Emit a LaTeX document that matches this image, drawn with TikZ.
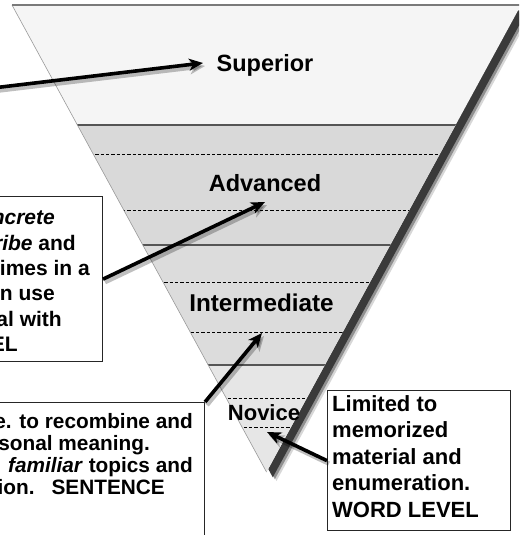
\documentclass[tikz,border=0pt]{standalone}
\usepackage{fontspec}
\setmainfont{Liberation Sans}
\usetikzlibrary{arrows.meta,calc}
\definecolor{supc}{HTML}{F5F5F5}
\definecolor{advc}{HTML}{D9D9D9}
\definecolor{intc}{HTML}{DCDCDC}
\definecolor{novc}{HTML}{E6E6E6}
\definecolor{edgec}{HTML}{9A9A9A}
\definecolor{topc}{HTML}{7A7A7A}
\definecolor{bandline}{HTML}{555555}
\definecolor{shadowc}{HTML}{3A3A3A}
\begin{document}
\begin{tikzpicture}[x=1pt,y=-1pt,
  lvl/.style={font=\fontsize{23.5}{28}\selectfont\bfseries, inner sep=0pt},
  lvlsmall/.style={font=\fontsize{22}{26}\selectfont\bfseries, inner sep=0pt},
  txtA/.style={font=\fontsize{21}{25}\selectfont\bfseries, inner sep=0pt, anchor=base east},
  txtB/.style={font=\fontsize{20.8}{24}\selectfont\bfseries, inner sep=0pt, anchor=base east},
  txtC/.style={font=\fontsize{22}{26}\selectfont\bfseries, inner sep=0pt, anchor=base west},
  boxframe/.style={draw=black!85, line width=1.3pt, fill=white, inner sep=0pt},
  arr/.style={line width=3.6pt, black, -{Stealth[length=14pt,width=12pt,inset=4pt]}},
  arrshadow/.style={line width=4.5pt, black, opacity=0.25, -{Stealth[length=15pt,width=13pt,inset=4pt]}},
  bandsolid/.style={bandline, line width=1.3pt},
  banddash/.style={black, line width=0.6pt, dash pattern=on 3.3pt off 2pt}
]
\useasboundingbox (0,0) rectangle (519,535);
\clip (0,0) rectangle (519,535);
\fill[white] (0,0) rectangle (519,535);

% triangle corners
\coordinate (TL) at (12,5);
\coordinate (TR) at (521,5);
\coordinate (A) at (266.5,472);

% shadow of triangle (layered to imitate blur)
\fill[shadowc, opacity=0.2] ([shift={(10,9)}]TL) -- ([shift={(10,9)}]TR) -- ([shift={(10,9)}]A) -- cycle;
\fill[shadowc, opacity=0.45] ([shift={(8.3,7.3)}]TL) -- ([shift={(8.3,7.3)}]TR) -- ([shift={(8.3,7.3)}]A) -- cycle;
\fill[shadowc] ([shift={(6.3,5.3)}]TL) -- ([shift={(6.3,5.3)}]TR) -- ([shift={(6.3,5.3)}]A) -- cycle;

% triangle bands
\fill[supc] (TL) -- (TR) -- (A) -- cycle;
\begin{scope}
  \clip (TL) -- (TR) -- (A) -- cycle;
  \fill[advc] (0,125) rectangle (530,245);
  \fill[intc] (0,245) rectangle (530,365);
  \fill[novc] (0,365) rectangle (530,480);
  \foreach \yy in {125,245,365} \draw[bandsolid] (0,\yy) -- (530,\yy);
  \foreach \yy in {154,210,282,332,398,427} \draw[banddash] (0,\yy) -- (530,\yy);
\end{scope}
\draw[edgec, line width=0.6pt] (TL) -- (A);
\draw[topc, line width=1.2pt] (TL) -- (TR);

% level labels
\node[lvl, anchor=base] (sup) at (265,71) {Superior};
\node[lvl, anchor=base] (adv) at (265,191) {Advanced};
\node[lvl, font=\fontsize{24.3}{28}\selectfont\bfseries, anchor=base] (int) at (261.5,311) {Intermediate};
\node[lvlsmall, anchor=base] (nov) at (264,420) {Novice};

% boxes
\node[boxframe, minimum width=300pt, minimum height=165pt, anchor=north east] (box1) at (103,196) {};
\node[boxframe, minimum width=300pt, minimum height=200pt, anchor=north east] (box2) at (205,402) {};
\node[boxframe, minimum width=183pt, minimum height=140pt, anchor=north west] (box3) at (327,390) {};

% box 1 text
\node[txtA] (a1) at (55,224.5) {\textit{ncrete}};
\node[txtA] (a2) at (76,250) {\textit{ribe} and};
\node[txtA] (a3) at (90,275.3) {imes in a};
\node[txtA] (a4) at (55,300.7) {n use};
\node[txtA] (a5) at (62,326) {al with};
\node[txtA] (a6) at (18,351.5) {EL};

% box 2 text
\node[txtB] (b1) at (193,428) {e. to recombine and};
\node[txtB] (b2) at (150,450) {rsonal meaning.};
\node[txtB] (b3) at (193,472) {\textit{familiar} topics and};
\node[txtB] (b4) at (165,494) {ion.\hspace{17pt}SENTENCE};

% box 3 text
\node[txtC] (c1) at (332,411) {Limited to};
\node[txtC] (c2) at (332,437.5) {memorized};
\node[txtC] (c3) at (332,464) {material and};
\node[txtC] (c4) at (332,490.5) {enumeration.};
\node[txtC] (c5) at (332,517) {WORD LEVEL};

% arrows
\coordinate (s1) at (-3,87.5);
\coordinate (t1) at (203,63);
\coordinate (t2) at (265,202);
\coordinate (t3) at (262,333);
\coordinate (t4) at (267,432);

\draw[arrshadow] ([shift={(2,3)}]s1) -- ([shift={(2,3)}]t1);
\draw[arrshadow] ([shift={(2,3)}]box1.east) -- ([shift={(2,3)}]t2);
\draw[arrshadow] ([shift={(2,3)}]box2.north east) -- ([shift={(2,3)}]t3);
\draw[arrshadow] ([shift={(2,3)}]box3.west) -- ([shift={(2,3)}]t4);

\draw[arr] (s1) -- (t1);
\draw[arr] (box1.east) -- (t2);
\draw[arr] (box2.north east) -- (t3);
\draw[arr] (box3.west) -- (t4);
\end{tikzpicture}
\end{document}
